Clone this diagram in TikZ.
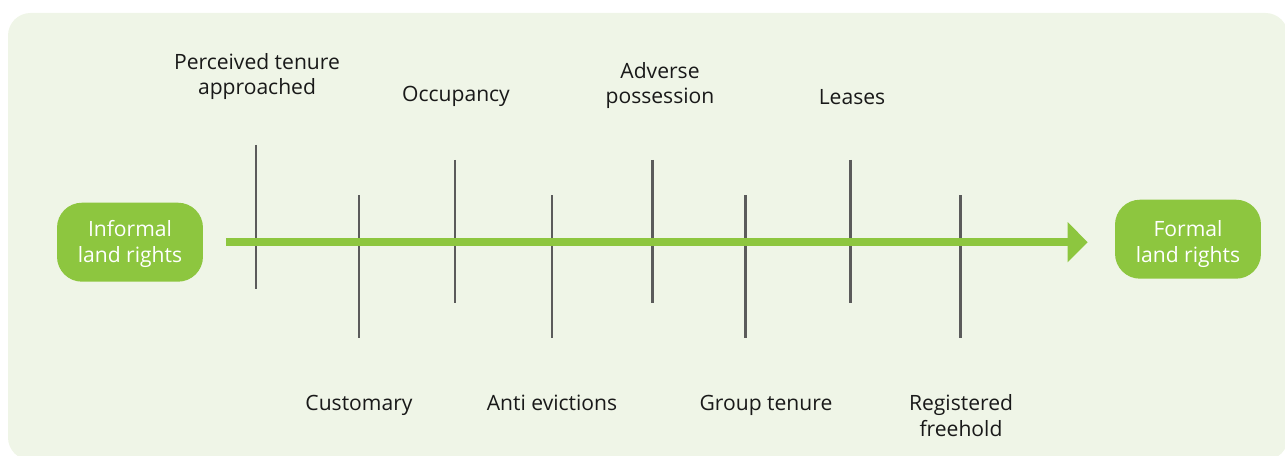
\documentclass[tikz,border=0pt]{standalone}
\usepackage{fontspec}
\setmainfont{Open Sans}
\usetikzlibrary{arrows.meta}

\definecolor{panelgreen}{HTML}{EFF5E7}
\definecolor{landgreen}{HTML}{8DC63F}
\definecolor{stagegray}{HTML}{5B5B5B}

\begin{document}
\begin{tikzpicture}[x=0.02cm, y=-0.02cm,
    landbox/.style={fill=landgreen, text=white, rounded corners=0.5cm,
        minimum width=2.92cm, minimum height=1.58cm, align=center,
        font=\fontsize{12}{14.7}\selectfont},
    stageline/.style={stagegray, line width=1.7pt},
    stagelabel/.style={align=center, text=black!90, anchor=base,
        font=\fontsize{12}{14.7}\selectfont}]
    \clip (0,0) rectangle (1285,456);
    \fill[panelgreen, rounded corners=0.45cm] (8,13) rectangle (1288,460);

    % end points
    \node[landbox] (informal) at (130,242.2) {\rule{0pt}{11.4pt}Informal\\land rights};
    \node[landbox] (formal) at (1188,239.2) {\rule{0pt}{14.8pt}Formal\\land rights};

    % stage lines, upper and lower
    \coordinate (perc top) at (256,145);  \coordinate (perc bot) at (256,289);
    \coordinate (cust top) at (359,195);  \coordinate (cust bot) at (359,338);
    \coordinate (occ top) at (455,160);   \coordinate (occ bot) at (455,303);
    \coordinate (anti top) at (552,195);  \coordinate (anti bot) at (552,338);
    \coordinate (adv top) at (652,160);   \coordinate (adv bot) at (652,303);
    \coordinate (grp top) at (745,195);   \coordinate (grp bot) at (745,338);
    \coordinate (lease top) at (850,160); \coordinate (lease bot) at (850,303);
    \coordinate (reg top) at (960,195);   \coordinate (reg bot) at (960,338);

    \draw[stageline] (perc top) -- (perc bot);
    \draw[stageline] (cust top) -- (cust bot);
    \draw[stageline] (occ top) -- (occ bot);
    \draw[stageline] (anti top) -- (anti bot);
    \draw[stageline] (adv top) -- (adv bot);
    \draw[stageline] (grp top) -- (grp bot);
    \draw[stageline] (lease top) -- (lease bot);
    \draw[stageline] (reg top) -- (reg bot);

    % main arrow
    \draw[landgreen, line width=4.5pt, -{Triangle[width=0.78cm,length=0.4cm]}]
        ([xshift=0.46cm]informal.east) -- ([xshift=-0.54cm]formal.west |- informal.east);

    % labels, placed on their (last) baselines
    \node[stagelabel] (perc) at (257,95) {Perceived tenure\\approached};
    \node[stagelabel] (occ) at (456,101.7) {Occupancy};
    \node[stagelabel] (adv) at (660,104) {Adverse\\possession};
    \node[stagelabel] (lease) at (852,105) {Leases};
    \node[stagelabel] (cust) at (359,410) {Customary};
    \node[stagelabel] (anti) at (552,410) {Anti evictions};
    \node[stagelabel] (grp) at (766,410) {Group tenure};
    \node[stagelabel] (reg) at (961,436.7) {Registered\\freehold};
\end{tikzpicture}
\end{document}
